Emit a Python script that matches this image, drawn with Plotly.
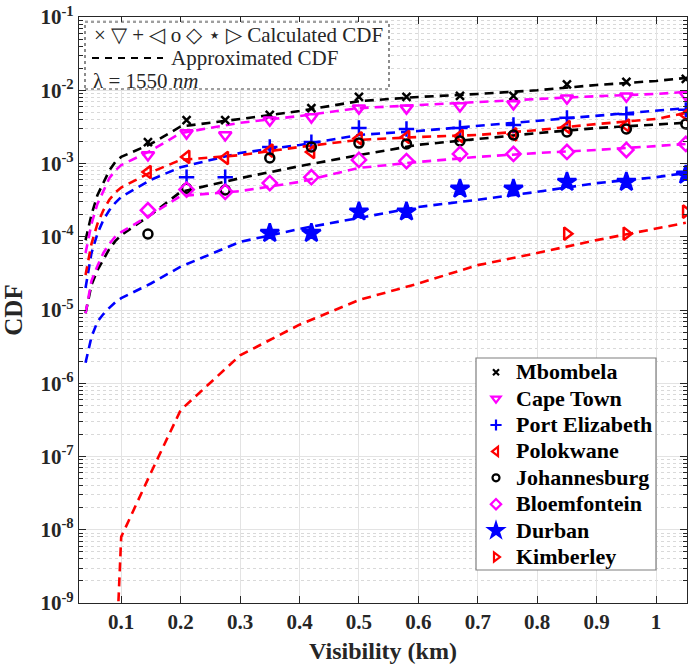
import plotly.graph_objects as go

# ---------------- data ----------------
x_calc = [0.145, 0.21, 0.275, 0.35, 0.42, 0.5, 0.58, 0.67, 0.76, 0.85, 0.95, 1.05]
x_line = [0.04, 0.05, 0.06, 0.07, 0.08, 0.09, 0.1, 0.15, 0.2, 0.3, 0.4, 0.5, 0.6, 0.7, 0.8, 0.9, 1.0, 1.05]

cities = ["Mbombela", "Cape Town", "Port Elizabeth", "Polokwane",
          "Johannesburg", "Bloemfontein", "Durban", "Kimberley"]

calc_mbombela = [1.96e-3, 3.9e-3, 3.9e-3, 4.6e-3, 5.7e-3, 8.1e-3, 8.1e-3, 8.4e-3, 8.4e-3, 1.2e-2, 1.3e-2, 1.43e-2]
calc_capetown = [1.31e-3, 2.6e-3, 2.45e-3, 3.9e-3, 4.3e-3, 5.7e-3, 5.7e-3, 6.1e-3, 6.5e-3, 7.8e-3, 8.3e-3, 8.6e-3]
calc_portelizabeth = [None, 6.5e-4, 6.5e-4, 1.68e-3, 1.96e-3, 3.05e-3, 2.96e-3, 3.05e-3, 3.36e-3, 4.2e-3, 4.7e-3, 5.4e-3]
calc_polokwane = [7.65e-4, 1.23e-3, 1.19e-3, 1.5e-3, 1.44e-3, 2.2e-3, 2.3e-3, 2.37e-3, 2.5e-3, 3.15e-3, 3.3e-3, 4.6e-3]
calc_johannesburg = [1.09e-4, 4.6e-4, 4.35e-4, 1.19e-3, 1.68e-3, 1.9e-3, 1.85e-3, 2.03e-3, 2.45e-3, 2.7e-3, 2.96e-3, 3.46e-3]
calc_bloemfontein = [2.3e-4, 4.4e-4, 4.1e-4, 5.4e-4, 6.5e-4, 1.12e-3, 1.08e-3, 1.35e-3, 1.35e-3, 1.44e-3, 1.53e-3, 1.85e-3]
calc_durban = [None, None, None, 1.12e-4, 1.12e-4, 2.2e-4, 2.2e-4, 4.5e-4, 4.5e-4, 5.6e-4, 5.6e-4, 7.0e-4]
calc_kimberley = [None, None, None, None, None, None, None, None, None, 1.1e-4, 1.1e-4, 2.2e-4]

appr_mbombela = [9e-5, 2e-4, 3.7e-4, 5.4e-4, 8e-4, 1.05e-3, 1.23e-3, 1.85e-3, 3.2e-3, 4.05e-3, 5.2e-3, 7.1e-3, 8.1e-3, 8.9e-3, 1.0e-2, 1.18e-2, 1.34e-2, 1.47e-2]
appr_capetown = [6e-5, 1.5e-4, 2.8e-4, 4.3e-4, 6.3e-4, 8e-4, 9.5e-4, 1.5e-3, 2.6e-3, 3.6e-3, 4.45e-3, 5.7e-3, 6.3e-3, 6.9e-3, 7.6e-3, 8.3e-3, 8.9e-3, 9.5e-3]
appr_portelizabeth = [2e-5, 6e-5, 1.1e-4, 1.7e-4, 2.3e-4, 2.9e-4, 3.5e-4, 6e-4, 8.9e-4, 1.39e-3, 1.79e-3, 2.45e-3, 2.78e-3, 3.25e-3, 3.8e-3, 4.45e-3, 5.2e-3, 5.7e-3]
appr_polokwane = [3e-5, 8e-5, 1.5e-4, 2.3e-4, 3.2e-4, 4e-4, 4.7e-4, 7.6e-4, 1.12e-3, 1.3e-3, 1.68e-3, 2.1e-3, 2.3e-3, 2.45e-3, 2.86e-3, 3.46e-3, 4.05e-3, 4.9e-3]
appr_johannesburg = [9e-6, 2.2e-5, 3.5e-5, 5e-5, 6.8e-5, 8.7e-5, 1.05e-4, 2e-4, 4.1e-4, 6.3e-4, 9.2e-4, 1.3e-3, 1.8e-3, 2.16e-3, 2.6e-3, 3.05e-3, 3.36e-3, 3.6e-3]
appr_bloemfontein = [9e-6, 2.5e-5, 4e-5, 6e-5, 8e-5, 1e-4, 1.16e-4, 2e-4, 3.6e-4, 4.2e-4, 5.6e-4, 8.7e-4, 1.05e-3, 1.23e-3, 1.39e-3, 1.53e-3, 1.73e-3, 1.85e-3]
appr_durban = [1.9e-6, 4.3e-6, 6.9e-6, 8.8e-6, 1.07e-5, 1.27e-5, 1.45e-5, 2.3e-5, 3.9e-5, 8.5e-5, 1.28e-4, 1.8e-4, 2.55e-4, 3.2e-4, 4.1e-4, 5.4e-4, 6.5e-4, 7.4e-4]
appr_kimberley = [None, None, None, None, None, 1e-10, 8e-9, 6e-8, 4.3e-7, 2.4e-6, 6.3e-6, 1.37e-5, 2.3e-5, 4.1e-5, 6e-5, 9e-5, 1.3e-4, 1.55e-4]

calc_series = [calc_mbombela, calc_capetown, calc_portelizabeth, calc_polokwane,
               calc_johannesburg, calc_bloemfontein, calc_durban, calc_kimberley]
appr_series = [appr_mbombela, appr_capetown, appr_portelizabeth, appr_polokwane,
               appr_johannesburg, appr_bloemfontein, appr_durban, appr_kimberley]

y_tickvals = [1e-9, 1e-8, 1e-7, 1e-6, 1e-5, 1e-4, 1e-3, 1e-2, 1e-1]
y_ticktext = ["10<sup>-9</sup>", "10<sup>-8</sup>", "10<sup>-7</sup>", "10<sup>-6</sup>",
              "10<sup>-5</sup>", "10<sup>-4</sup>", "10<sup>-3</sup>", "10<sup>-2</sup>", "10<sup>-1</sup>"]
x_tickvals = [0.1, 0.2, 0.3, 0.4, 0.5, 0.6, 0.7, 0.8, 0.9, 1.0]
x_ticktext = ["0.1", "0.2", "0.3", "0.4", "0.5", "0.6", "0.7", "0.8", "0.9", "1"]

# ---------------- styles ----------------
colors = ["#000000", "#ff00ff", "#0000ff", "#ff0000", "#000000", "#ff00ff", "#0000ff", "#ff0000"]
symbols = ["x-thin-open", "triangle-down-open", "cross-thin-open", "triangle-left-open",
           "circle-open", "diamond-open", "star", "triangle-right-open"]
sizes = [8, 11, 11, 11, 9, 11, 14, 11]
leg_sizes = [6, 8, 8, 8, 7, 8, 11, 8]

SERIF = "Liberation Serif"
TXT = "#262626"


def bfont(size, color=TXT):
    return dict(family=SERIF, size=size, color=color, weight="bold")


def px_x(p):
    return (p - 79) / 608.0


def px_y(p):
    return 1 - (p - 17) / 586.0


fig = go.Figure()

for i in range(8):
    fig.add_trace(go.Scatter(
        x=x_line, y=appr_series[i], mode="lines",
        line=dict(color=colors[i], width=2.6, dash="9px,6px"),
        showlegend=False, connectgaps=False, hoverinfo="skip"))

for i in range(8):
    fig.add_trace(go.Scatter(
        x=x_calc, y=calc_series[i], mode="markers", name=cities[i], showlegend=False,
        marker=dict(symbol=symbols[i], size=sizes[i], color=colors[i],
                    line=dict(color=colors[i], width=2.5))))

# legend-only entries (smaller markers, like the reference legend)
for i in range(8):
    fig.add_trace(go.Scatter(
        x=[None], y=[None], mode="markers",
        name='<span style="font-size:22px">' + cities[i] + '</span>',
        marker=dict(symbol=symbols[i], size=leg_sizes[i], color=colors[i],
                    line=dict(color=colors[i], width=2.2))))

axis_color = "#262626"
grid_color = "#e3e3e3"

fig.update_layout(
    width=688, height=669,
    margin=dict(l=79, r=1, t=17, b=66),
    paper_bgcolor="white", plot_bgcolor="white",
    font=dict(family=SERIF, color=TXT),
    showlegend=True,
    legend=dict(
        x=px_x(476), y=px_y(354), xanchor="left", yanchor="top",
        bgcolor="rgba(0,0,0,0)", borderwidth=0,
        font=bfont(18, "black"),
        tracegroupgap=0, itemwidth=30,
    ),
    xaxis=dict(
        range=[0.029, 1.052], tickmode="array", tickvals=x_tickvals, ticktext=x_ticktext,
        ticks="inside", ticklen=7, tickcolor=axis_color, showline=True, linecolor=axis_color,
        linewidth=1.3, mirror="allticks", showgrid=True, gridcolor=grid_color, gridwidth=1,
        zeroline=False,
        tickfont=bfont(21),
        title=dict(text="Visibility (km)", font=bfont(24), standoff=8),
    ),
    yaxis=dict(
        type="log", range=[-9, -1], tickmode="array", tickvals=y_tickvals, ticktext=y_ticktext,
        ticks="inside", ticklen=7, tickcolor=axis_color, showline=True, linecolor=axis_color,
        linewidth=1.3, mirror="allticks", showgrid=True, gridcolor=grid_color, gridwidth=1,
        zeroline=False,
        tickfont=bfont(21),
        minor=dict(dtick="D1", ticks="inside", ticklen=4, tickcolor=axis_color,
                   showgrid=True, gridcolor="#d9d9d9", griddash="dot", gridwidth=1),
        title=dict(text="CDF", font=bfont(25), standoff=10),
    ),
)

# legend frame (white box under the legend entries)
fig.add_shape(type="rect", xref="paper", yref="paper",
              x0=px_x(476), x1=px_x(656), y0=px_y(570), y1=px_y(358),
              line=dict(color="#7f7f7f", width=1.2), fillcolor="white", layer="above")

# ---- top-left annotation box ----
fig.add_shape(type="rect", xref="paper", yref="paper",
              x0=px_x(85), x1=px_x(389), y0=px_y(89), y1=px_y(22),
              line=dict(color="#404040", width=1.2, dash="dot"), fillcolor="white", layer="above")
fig.add_shape(type="line", xref="paper", yref="paper",
              x0=px_x(92), x1=px_x(163), y0=px_y(58), y1=px_y(58),
              line=dict(color="black", width=2.2, dash="7px,6px"), layer="above")

fig.add_annotation(xref="paper", yref="paper", x=px_x(92), y=px_y(35), xanchor="left", yanchor="middle",
                   text="× ▽ + ◁ o ◇ ⋆ ▷ Calculated CDF", showarrow=False,
                   font=dict(family=SERIF, size=21, color=TXT))
fig.add_annotation(xref="paper", yref="paper", x=px_x(169), y=px_y(58), xanchor="left", yanchor="middle",
                   text="Approximated CDF", showarrow=False,
                   font=dict(family=SERIF, size=21, color=TXT))
fig.add_annotation(xref="paper", yref="paper", x=px_x(91), y=px_y(81), xanchor="left", yanchor="middle",
                   text="λ = 1550 <i>nm</i>", showarrow=False,
                   font=dict(family=SERIF, size=21, color=TXT))

fig.write_html("out.html")
